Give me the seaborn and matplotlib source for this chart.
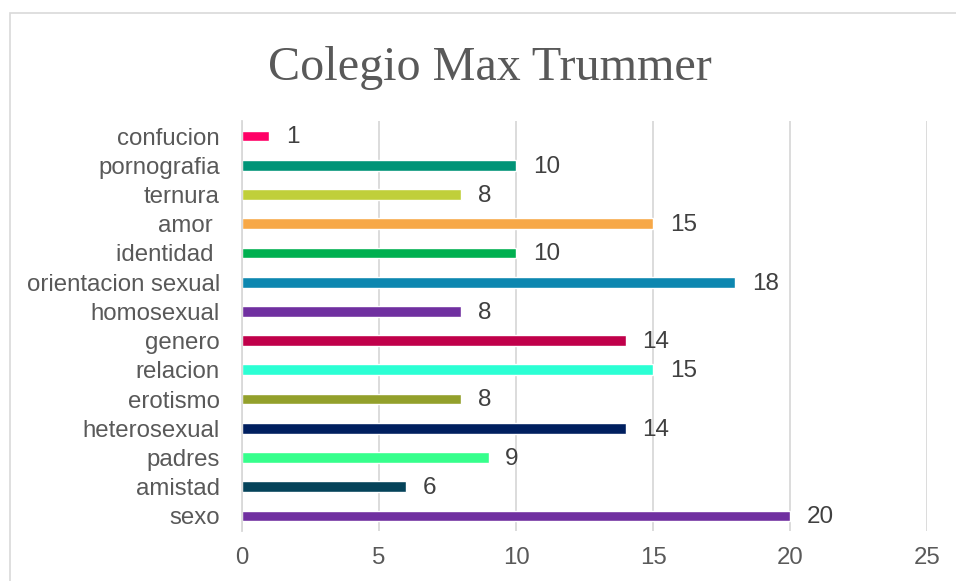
import matplotlib
matplotlib.use("Agg")
import matplotlib.pyplot as plt
import seaborn as sns
import pandas as pd
from matplotlib.patches import Rectangle

categories = ["confucion", "pornografia", "ternura", "amor ", "identidad ",
              "orientacion sexual", "homosexual", "genero", "relacion", "erotismo",
              "heterosexual", "padres", "amistad", "sexo"]
values = [1, 10, 8, 15, 10, 18, 8, 14, 15, 8, 14, 9, 6, 20]
colors = ["#FF0066", "#009477", "#C0CF3A", "#F7A847", "#00B050",
          "#0D87B0", "#7030A0", "#C0004A", "#2BFFD4", "#93A02B",
          "#001F5F", "#36FF8C", "#05435A", "#7030A0"]
xticks = [0, 5, 10, 15, 20, 25]
title = "Colegio Max Trummer"

sns.set_style("white")
plt.rcParams['font.family'] = ['Liberation Sans', 'DejaVu Sans']

df = pd.DataFrame({"cat": categories, "val": values})

fig = plt.figure(figsize=(9.56, 5.81), dpi=100)
ax = fig.add_axes([242/956, 1 - 530.6/581, (927-242)/956, (530.6-121.4)/581])

sns.barplot(data=df, x="val", y="cat", hue="cat", palette=colors, order=categories,
            hue_order=categories, orient="h", width=0.37, legend=False, ax=ax,
            saturation=1)

for c in ax.containers:
    labels = ax.bar_label(c, padding=12, fontsize=17.5, color="#404040")
    for t in labels:
        x, y = t.xyann
        t.xyann = (x, y - 1)

ax.set_xlim(0, 25)
ax.set_xticks(xticks)
ax.set_xlabel("")
ax.set_ylabel("")
ax.grid(axis="x", color="#D9D9D9", linewidth=1.3)
ax.set_axisbelow(True)
for s in ["top", "right", "bottom"]:
    ax.spines[s].set_visible(False)
ax.spines["left"].set_color("#D9D9D9")
ax.spines["left"].set_linewidth(1.3)
ax.tick_params(axis="y", length=0, pad=16, labelsize=17.3, labelcolor="#595959")
ax.tick_params(axis="x", length=0, pad=12, labelsize=17.3, labelcolor="#595959")

fig.text(490/956, 1 - 80/581, title, ha="center", va="baseline",
         fontsize=34.7, color="#595959", family=["Liberation Serif", "DejaVu Serif"])

fig.patches.append(Rectangle((10/956, -0.1), 1.2, (581-13)/581 + 0.1,
                             transform=fig.transFigure, fill=False,
                             edgecolor="#D9D9D9", linewidth=1.2))

fig.savefig("out.png", dpi=100)
